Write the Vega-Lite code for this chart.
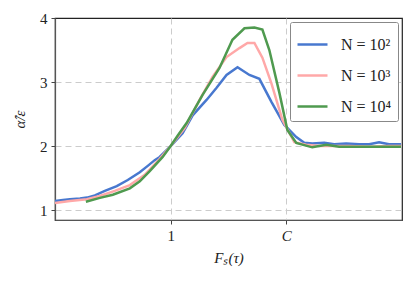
{
  "$schema": "https://vega.github.io/schema/vega-lite/v6.json",
  "autosize": "none",
  "width": 347,
  "height": 202,
  "padding": {"left": 55, "top": 18, "right": 14, "bottom": 61},
  "background": "white",
  "config": {
    "view": {"stroke": "#222222", "strokeWidth": 1.2},
    "font": "Liberation Serif"
  },
  "data": {
    "values": [
      {"s": "N = 10²", "x": 0.000, "y": 1.14},
      {"s": "N = 10²", "x": 0.069, "y": 1.156},
      {"s": "N = 10²", "x": 0.129, "y": 1.17},
      {"s": "N = 10²", "x": 0.216, "y": 1.18},
      {"s": "N = 10²", "x": 0.276, "y": 1.195},
      {"s": "N = 10²", "x": 0.345, "y": 1.23},
      {"s": "N = 10²", "x": 0.431, "y": 1.30},
      {"s": "N = 10²", "x": 0.534, "y": 1.375},
      {"s": "N = 10²", "x": 0.629, "y": 1.47},
      {"s": "N = 10²", "x": 0.733, "y": 1.59},
      {"s": "N = 10²", "x": 0.802, "y": 1.69},
      {"s": "N = 10²", "x": 0.862, "y": 1.78},
      {"s": "N = 10²", "x": 0.905, "y": 1.83},
      {"s": "N = 10²", "x": 1.000, "y": 2.00},
      {"s": "N = 10²", "x": 1.103, "y": 2.20},
      {"s": "N = 10²", "x": 1.190, "y": 2.48},
      {"s": "N = 10²", "x": 1.310, "y": 2.72},
      {"s": "N = 10²", "x": 1.397, "y": 2.91},
      {"s": "N = 10²", "x": 1.483, "y": 3.11},
      {"s": "N = 10²", "x": 1.578, "y": 3.23},
      {"s": "N = 10²", "x": 1.681, "y": 3.11},
      {"s": "N = 10²", "x": 1.767, "y": 3.05},
      {"s": "N = 10²", "x": 1.871, "y": 2.69},
      {"s": "N = 10²", "x": 1.983, "y": 2.33},
      {"s": "N = 10²", "x": 2.086, "y": 2.14},
      {"s": "N = 10²", "x": 2.155, "y": 2.05},
      {"s": "N = 10²", "x": 2.224, "y": 2.04},
      {"s": "N = 10²", "x": 2.328, "y": 2.05},
      {"s": "N = 10²", "x": 2.414, "y": 2.03},
      {"s": "N = 10²", "x": 2.517, "y": 2.04},
      {"s": "N = 10²", "x": 2.629, "y": 2.03},
      {"s": "N = 10²", "x": 2.716, "y": 2.03},
      {"s": "N = 10²", "x": 2.802, "y": 2.06},
      {"s": "N = 10²", "x": 2.888, "y": 2.03},
      {"s": "N = 10²", "x": 2.991, "y": 2.03},
      {"s": "N = 10³", "x": 0.000, "y": 1.11},
      {"s": "N = 10³", "x": 0.129, "y": 1.14},
      {"s": "N = 10³", "x": 0.276, "y": 1.17},
      {"s": "N = 10³", "x": 0.388, "y": 1.22},
      {"s": "N = 10³", "x": 0.517, "y": 1.30},
      {"s": "N = 10³", "x": 0.647, "y": 1.39},
      {"s": "N = 10³", "x": 0.776, "y": 1.55},
      {"s": "N = 10³", "x": 0.905, "y": 1.80},
      {"s": "N = 10³", "x": 1.000, "y": 2.00},
      {"s": "N = 10³", "x": 1.121, "y": 2.28},
      {"s": "N = 10³", "x": 1.250, "y": 2.72},
      {"s": "N = 10³", "x": 1.362, "y": 3.08},
      {"s": "N = 10³", "x": 1.483, "y": 3.39},
      {"s": "N = 10³", "x": 1.595, "y": 3.53},
      {"s": "N = 10³", "x": 1.664, "y": 3.61},
      {"s": "N = 10³", "x": 1.724, "y": 3.61},
      {"s": "N = 10³", "x": 1.793, "y": 3.38},
      {"s": "N = 10³", "x": 1.871, "y": 2.98},
      {"s": "N = 10³", "x": 1.966, "y": 2.41},
      {"s": "N = 10³", "x": 2.069, "y": 2.06},
      {"s": "N = 10³", "x": 2.172, "y": 2.02},
      {"s": "N = 10³", "x": 2.284, "y": 2.00},
      {"s": "N = 10³", "x": 2.397, "y": 2.00},
      {"s": "N = 10³", "x": 2.543, "y": 2.00},
      {"s": "N = 10³", "x": 2.716, "y": 1.99},
      {"s": "N = 10³", "x": 2.888, "y": 2.00},
      {"s": "N = 10³", "x": 2.991, "y": 2.00},
      {"s": "N = 10⁴", "x": 0.267, "y": 1.13},
      {"s": "N = 10⁴", "x": 0.388, "y": 1.19},
      {"s": "N = 10⁴", "x": 0.500, "y": 1.24},
      {"s": "N = 10⁴", "x": 0.647, "y": 1.34},
      {"s": "N = 10⁴", "x": 0.733, "y": 1.45},
      {"s": "N = 10⁴", "x": 0.819, "y": 1.61},
      {"s": "N = 10⁴", "x": 0.931, "y": 1.83},
      {"s": "N = 10⁴", "x": 1.000, "y": 2.00},
      {"s": "N = 10⁴", "x": 1.060, "y": 2.16},
      {"s": "N = 10⁴", "x": 1.138, "y": 2.36},
      {"s": "N = 10⁴", "x": 1.276, "y": 2.80},
      {"s": "N = 10⁴", "x": 1.422, "y": 3.22},
      {"s": "N = 10⁴", "x": 1.534, "y": 3.66},
      {"s": "N = 10⁴", "x": 1.638, "y": 3.84},
      {"s": "N = 10⁴", "x": 1.724, "y": 3.85},
      {"s": "N = 10⁴", "x": 1.793, "y": 3.82},
      {"s": "N = 10⁴", "x": 1.853, "y": 3.50},
      {"s": "N = 10⁴", "x": 1.940, "y": 2.83},
      {"s": "N = 10⁴", "x": 2.009, "y": 2.25},
      {"s": "N = 10⁴", "x": 2.086, "y": 2.05},
      {"s": "N = 10⁴", "x": 2.224, "y": 1.98},
      {"s": "N = 10⁴", "x": 2.345, "y": 2.02},
      {"s": "N = 10⁴", "x": 2.457, "y": 1.99},
      {"s": "N = 10⁴", "x": 2.629, "y": 1.99},
      {"s": "N = 10⁴", "x": 2.802, "y": 1.99},
      {"s": "N = 10⁴", "x": 2.991, "y": 1.99}
    ]
  },
  "mark": {"type": "line", "strokeWidth": 2.5, "clip": true},
  "encoding": {
    "x": {
      "field": "x", "type": "quantitative",
      "scale": {"domain": [0, 3], "nice": false, "zero": false},
      "axis": {
        "values": [1, 2],
        "labelExpr": "datum.value == 1 ? '1' : 'C'",
        "labelFontStyle": {"condition": {"test": "datum.value == 2", "value": "italic"}, "value": "normal"},
        "title": "Fₛ(τ)",
        "titleFontStyle": "italic",
        "titleFontWeight": "normal",
        "titleFont": "Liberation Serif",
        "titleFontSize": 15,
        "titleColor": "#222222",
        "titlePadding": 7,
        "labelFont": "Liberation Serif",
        "labelFontSize": 15,
        "labelColor": "#222222",
        "labelPadding": 4,
        "tickSize": 4,
        "tickColor": "#444444",
        "domainColor": "#555555",
        "domainWidth": 1.2,
        "grid": true,
        "gridColor": "#cccccc",
        "gridDash": [6, 4],
        "gridWidth": 1
      }
    },
    "y": {
      "field": "y", "type": "quantitative",
      "scale": {"domain": [0.845, 4], "nice": false, "zero": false},
      "axis": {
        "values": [1, 2, 3, 4],
        "title": "α̂/ε",
        "titleFontStyle": "italic",
        "titleFontWeight": "normal",
        "titleFont": "Liberation Serif",
        "titleFontSize": 15,
        "titleColor": "#222222",
        "titlePadding": 12,
        "labelFont": "Liberation Serif",
        "labelFontSize": 15,
        "labelColor": "#222222",
        "labelPadding": 4,
        "tickSize": 4,
        "tickColor": "#444444",
        "domainColor": "#555555",
        "domainWidth": 1.2,
        "grid": true,
        "gridOpacity": {"condition": {"test": "datum.value == 4", "value": 0}, "value": 1},
        "gridColor": "#cccccc",
        "gridDash": [6, 4],
        "gridWidth": 1
      }
    },
    "color": {
      "field": "s", "type": "nominal",
      "scale": {"domain": ["N = 10²", "N = 10³", "N = 10⁴"], "range": ["#4878cf", "#ffa8a8", "#4f9a4f"]},
      "legend": {
        "title": null,
        "orient": "top-right",
        "offset": 4,
        "symbolType": "stroke",
        "symbolSize": 900,
        "symbolStrokeWidth": 2.5,
        "labelFont": "Liberation Serif",
        "labelFontSize": 16,
        "labelColor": "#222222",
        "labelOffset": 12,
        "rowPadding": 6,
        "padding": 6,
        "fillColor": "white",
        "strokeColor": "#888888",
        "cornerRadius": 2
      }
    }
  }
}
